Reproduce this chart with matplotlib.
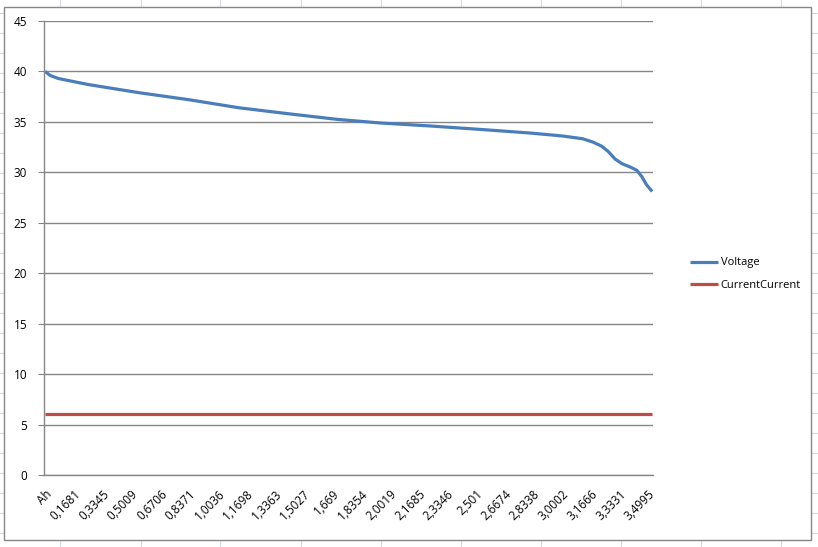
import matplotlib.pyplot as plt
from matplotlib.lines import Line2D
from matplotlib.patches import Rectangle

# category labels shown on the x axis (Excel style, comma decimals)
tick_ah = [0.0017, 0.1681, 0.3345, 0.5009, 0.6706, 0.8371, 1.0036, 1.1698,
           1.3363, 1.5027, 1.669, 1.8354, 2.0019, 2.1685, 2.3346, 2.501,
           2.6674, 2.8338, 3.0002, 3.1666, 3.3331, 3.4995]
tick_labels = ['Ah', '0,1681', '0,3345', '0,5009', '0,6706', '0,8371', '1,0036',
               '1,1698', '1,3363', '1,5027', '1,669', '1,8354', '2,0019', '2,1685',
               '2,3346', '2,501', '2,6674', '2,8338', '3,0002', '3,1666', '3,3331',
               '3,4995']

# voltage curve
volt_ah = [0.0, 0.03, 0.077, 0.252, 0.543, 0.834, 1.125, 1.416, 1.696, 1.940,
           2.231, 2.522, 2.813, 3.005, 3.12, 3.18, 3.23, 3.27, 3.31, 3.35,
           3.40, 3.435, 3.465, 3.49, 3.524]
voltage = [40.0, 39.6, 39.3, 38.7, 37.9, 37.2, 36.4, 35.8, 35.25, 34.9,
           34.6, 34.26, 33.9, 33.6, 33.33, 33.0, 32.6, 32.05, 31.3, 30.85,
           30.5, 30.2, 29.55, 28.8, 28.1]

current_ah = [0.0, 3.524]
current = [6.0, 6.0]

W, H = 818, 547
fig = plt.figure(figsize=(W / 100, H / 100), dpi=100)
plt.rcParams['font.family'] = ['Open Sans', 'DejaVu Sans']

# spreadsheet cell grid behind the chart
grid_c = '#d4dae6'
for x in range(60, W, 80):
    fig.add_artist(Line2D([(x + 0.5) / W] * 2, [0, 1], color=grid_c, lw=0.8, zorder=0))
for y in range(12, H, 20):
    fig.add_artist(Line2D([0, 1], [1 - (y + 0.5) / H] * 2, color=grid_c, lw=0.8, zorder=0))

# chart frame
fig.add_artist(Rectangle((4 / W, 1 - 540 / H), 807 / W, 533 / H, facecolor='white',
                         edgecolor='#868686', lw=1.0, zorder=1))

ax = fig.add_axes([44 / W, 1 - 475 / H, 609 / W, 454 / H])
ax.set_zorder(2)
ax.patch.set_alpha(0)

ax.plot(volt_ah, voltage, color='#4a7ebb', lw=2.3, label='Voltage', solid_capstyle='butt')
ax.plot(current_ah, current, color='#be4b48', lw=2.3, label='CurrentCurrent', solid_capstyle='butt')

ax.set_xlim(-0.006, 3.529)
ax.set_ylim(0, 45)
ax.set_yticks(range(0, 46, 5))
ax.grid(axis='y', color='#868686', lw=1.0)
ax.set_axisbelow(True)

ax.set_xticks(tick_ah)
ax.set_xticklabels(tick_labels, rotation=45, ha='right', rotation_mode='anchor')
ax.tick_params(axis='x', length=0, pad=9, labelsize=8.5)
ax.tick_params(axis='y', length=4, color='#868686', pad=8, labelsize=8.5)

for s in ['top', 'right']:
    ax.spines[s].set_visible(False)
for s in ['left', 'bottom']:
    ax.spines[s].set_color('#868686')
    ax.spines[s].set_linewidth(1.0)

ax.legend(loc='center left', bbox_to_anchor=(684 / W, 1 - 274 / H),
          bbox_transform=fig.transFigure, frameon=False, fontsize=8,
          handlelength=2.6, handletextpad=0.2, labelspacing=1.0, borderpad=0)

fig.savefig('out.png', dpi=100)
